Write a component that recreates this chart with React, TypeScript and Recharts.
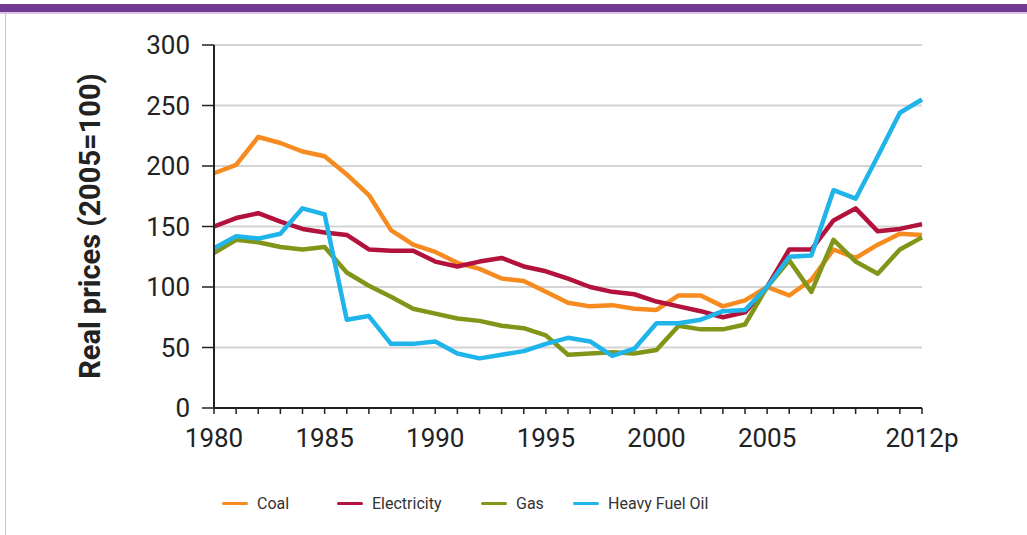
import { CartesianGrid, Line, LineChart, XAxis, YAxis } from "recharts";

const years = [
  "1980", "1981", "1982", "1983", "1984", "1985", "1986", "1987", "1988", "1989",
  "1990", "1991", "1992", "1993", "1994", "1995", "1996", "1997", "1998", "1999",
  "2000", "2001", "2002", "2003", "2004", "2005", "2006", "2007", "2008", "2009",
  "2010", "2011", "2012",
];

const coal = [
  194, 201, 224, 219, 212, 208, 193, 176, 147, 135, 129, 120, 115, 107, 105, 96, 87,
  84, 85, 82, 81, 93, 93, 84, 89, 100, 93, 106, 131, 124, 135, 144, 143,
];
const electricity = [
  150, 157, 161, 154, 148, 145, 143, 131, 130, 130, 121, 117, 121, 124, 117, 113, 107,
  100, 96, 94, 88, 84, 80, 75, 79, 100, 131, 131, 155, 165, 146, 148, 152,
];
const gas = [
  128, 139, 137, 133, 131, 133, 112, 101, 92, 82, 78, 74, 72, 68, 66, 60, 44, 45, 46,
  45, 48, 68, 65, 65, 69, 100, 122, 96, 139, 121, 111, 131, 141,
];
const heavyFuelOil = [
  132, 142, 140, 144, 165, 160, 73, 76, 53, 53, 55, 45, 41, 44, 47, 53, 58, 55, 43, 49,
  70, 70, 73, 80, 81, 100, 125, 126, 180, 173, 208, 244, 255,
];

const yTicks = [0, 50, 100, 150, 200, 250, 300];
const xTickLabels: Record<string, string> = {
  "1980": "1980",
  "1985": "1985",
  "1990": "1990",
  "1995": "1995",
  "2000": "2000",
  "2005": "2005",
  "2012": "2012p",
};

const series = [
  { key: "coal", name: "Coal", color: "#f68b1f" },
  { key: "electricity", name: "Electricity", color: "#b2123b" },
  { key: "gas", name: "Gas", color: "#819619" },
  { key: "hfo", name: "Heavy Fuel Oil", color: "#1fb4ea" },
];

const data = years.map((year, i) => ({
  year,
  coal: coal[i],
  electricity: electricity[i],
  gas: gas[i],
  hfo: heavyFuelOil[i],
}));

const font = "Roboto, 'DejaVu Sans', sans-serif";
// legend item widths, so the swatches land where the original has them
const legendWidths = [115, 144, 92, 140];

function YTitle() {
  return (
    <text
      x={90}
      y={226}
      transform="rotate(-90 90 226)"
      textAnchor="middle"
      dominantBaseline="central"
      fontFamily={font}
      fontWeight={700}
      fontSize={29}
      fill="#222"
    >
      Real prices (2005=100)
    </text>
  );
}

export default function App() {
  return (
    <div
      style={{
        position: "absolute",
        left: 0,
        top: 0,
        width: 1027,
        height: 535,
        background: "#fff",
        fontFamily: font,
        overflow: "hidden",
      }}
    >
      <div style={{ position: "absolute", left: 0, top: 4, width: 1027, height: 8, background: "#713b93" }} />
      <div style={{ position: "absolute", left: 0, top: 12, width: 1027, height: 2, background: "#d9c6e6" }} />
      <div style={{ position: "absolute", left: 5, top: 12, width: 1, height: 523, background: "#c8c8c8" }} />

      <LineChart
        width={1027}
        height={535}
        data={data}
        margin={{ top: 45, right: 105, bottom: 67, left: 84 }}
        style={{ position: "absolute", left: 0, top: 0 }}
      >
        <CartesianGrid vertical={false} stroke="#d4d4d4" strokeWidth={2} />
        <XAxis
          dataKey="year"
          height={60}
          interval={0}
          tickFormatter={(v) => xTickLabels[v] ?? ""}
          tick={{ fontSize: 26, fill: "#222", fontFamily: font }}
          tickSize={6}
          tickMargin={15}
          axisLine={{ stroke: "#222", strokeWidth: 2 }}
          tickLine={{ stroke: "#222", strokeWidth: 1.5 }}
        />
        <YAxis
          width={130}
          domain={[0, 300]}
          ticks={yTicks}
          interval={0}
          tick={{ fontSize: 26, fill: "#222", fontFamily: font }}
          tickSize={12}
          tickMargin={12}
          axisLine={{ stroke: "#222", strokeWidth: 2 }}
          tickLine={{ stroke: "#222", strokeWidth: 1.5 }}
          label={<YTitle />}
        />
        {series.map((s) => (
          <Line
            key={s.key}
            type="linear"
            dataKey={s.key}
            name={s.name}
            stroke={s.color}
            strokeWidth={4.5}
            strokeLinejoin="round"
            dot={false}
            isAnimationActive={false}
          />
        ))}
      </LineChart>

      <div
        style={{
          position: "absolute",
          left: 222,
          top: 494,
          display: "flex",
          alignItems: "center",
          fontSize: 16,
          color: "#333",
        }}
      >
        {series.map((s, i) => (
          <div key={s.key} style={{ display: "flex", alignItems: "center", gap: 9, width: legendWidths[i] }}>
            <span style={{ display: "inline-block", width: 26, height: 3, background: s.color, borderRadius: 2 }} />
            <span style={{ whiteSpace: "nowrap" }}>{s.name}</span>
          </div>
        ))}
      </div>
    </div>
  );
}
